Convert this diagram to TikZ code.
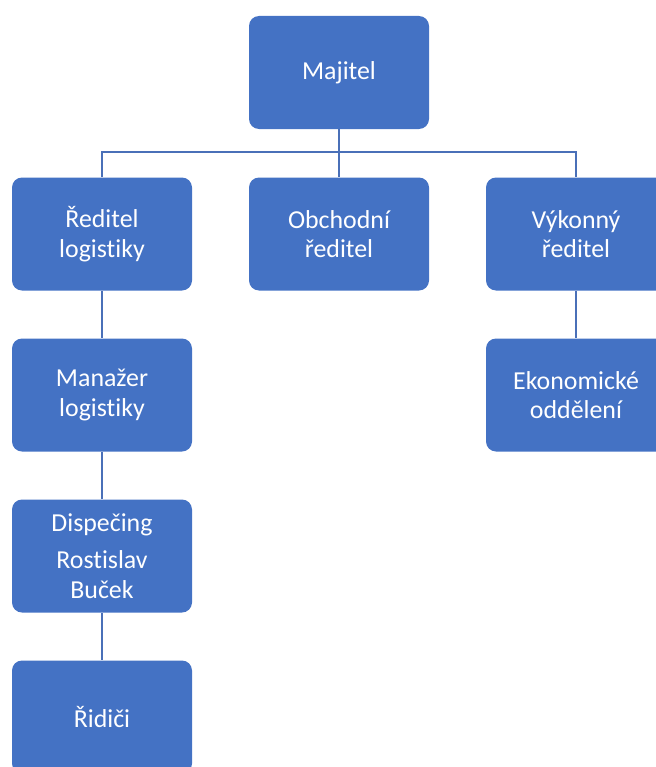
\documentclass[tikz,border=0pt]{standalone}
\usepackage{fontspec}
\setmainfont{Carlito}[Ligatures=NoCommon]
\definecolor{boxblue}{HTML}{4472C4}
\definecolor{lineblue}{HTML}{4A70B8}

\tikzset{
  org/.style={draw=none, fill=boxblue, rounded corners=7.5pt, minimum width=135pt,
    minimum height=84.75pt, text=white, align=center, inner sep=2pt,
    font=\fontsize{19.4}{22}\selectfont},
  link/.style={lineblue, line width=1.5pt}
}

\begin{document}
\begin{tikzpicture}[x=0.75pt, y=-0.75pt]
\useasboundingbox (0,0) rectangle (656,767);
\clip (0,0) rectangle (656,767);
% top
\node[org] (majitel) at (339,72.5) {Majitel};
% second row
\node[org] (reditel) at (102,234) {Ředitel\\logistiky};
\node[org] (obchodni) at (339,234) {Obchodní\\ředitel};
\node[org] (vykonny) at (576,234) {Výkonný\\ředitel};
% left column
\node[org] (manazer) at (102,395) {Manažer\\logistiky};
\node[org] (dispecink) at (102,556) {Dispečing\\[6pt]Rostislav\\Buček};
\node[org] (ridici) at (102,717) {Řidiči};
% right column
\node[org] (ekonom) at (576,395) {Ekonomické\\oddělení};
% links
\coordinate (bus) at (339,152);
\draw[link] (majitel.south) -- (obchodni.north);
\draw[link] (reditel.north) |- (bus) -| (vykonny.north);
\draw[link] (reditel.south) -- (manazer.north);
\draw[link] (manazer.south) -- (dispecink.north);
\draw[link] (dispecink.south) -- (ridici.north);
\draw[link] (vykonny.south) -- (ekonom.north);
\end{tikzpicture}
\end{document}
